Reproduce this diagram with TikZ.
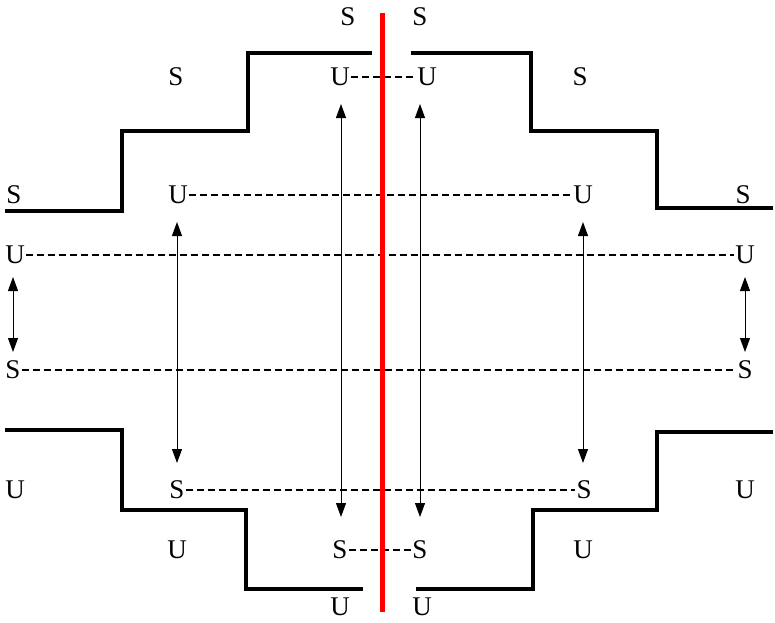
\documentclass[tikz,border=0pt]{standalone}
\usepackage{fontspec}
\setmainfont{Liberation Serif}
\usetikzlibrary{arrows.meta}
\begin{document}
\begin{tikzpicture}[x=1pt,y=-1pt,
  lbl/.style={inner sep=1pt,font=\fontsize{27}{27}\selectfont},
  wall/.style={line width=4pt,line join=miter},
  dsh/.style={line width=1.5pt,dash pattern=on 7pt off 4pt},
  dbl/.style={line width=1pt,{Triangle[length=14pt,width=10pt]}-{Triangle[length=14pt,width=10pt]}},
  redline/.style={red,line width=5pt}]
\useasboundingbox (0,0) rectangle (775,622);
% walls
\draw[wall] (5,211) -- (122,211) -- (122,131) -- (248,131) -- (248,53) -- (372,53);
\draw[wall] (411,53) -- (531,53) -- (531,131) -- (657,131) -- (657,208) -- (773,208);
\draw[wall] (5,430) -- (122,430) -- (122,510) -- (246,510) -- (246,589) -- (363,589);
\draw[wall] (416,589) -- (533,589) -- (533,510) -- (657,510) -- (657,432) -- (773,432);
% labels
\node[lbl] (s1) at (348,17) {S};
\node[lbl] (s2) at (420,17) {S};
\node[lbl] (s3) at (176,77) {S};
\node[lbl] (s4) at (580,77) {S};
\node[lbl] (u1) at (340,77) {U};
\node[lbl] (u2) at (427,77) {U};
\node[lbl] (s5) at (14,195) {S};
\node[lbl] (u3) at (178,195) {U};
\node[lbl] (u4) at (583,195) {U};
\node[lbl] (s6) at (743,195) {S};
\node[lbl] (u5) at (15,255) {U};
\node[lbl] (u6) at (745,255) {U};
\node[lbl] (s7) at (13,370) {S};
\node[lbl] (s8) at (745,370) {S};
\node[lbl] (u7) at (15,490) {U};
\node[lbl] (s9) at (177,490) {S};
\node[lbl] (s10) at (584,490) {S};
\node[lbl] (u8) at (745,490) {U};
\node[lbl] (u9) at (177,550) {U};
\node[lbl] (s11) at (340,550) {S};
\node[lbl] (s12) at (420,550) {S};
\node[lbl] (u10) at (583,550) {U};
\node[lbl] (u11) at (340,607) {U};
\node[lbl] (u12) at (422,607) {U};
% dashed lines
\draw[dsh] (u1) -- (u2);
\draw[dsh] (u3) -- (u4);
\draw[dsh] (u5) -- (u6);
\draw[dsh] (s7) -- (s8);
\draw[dsh] (s9) -- (s10);
\draw[dsh] (s11) -- (s12);
% arrow end points
\coordinate (a1t) at (13,277); \coordinate (a1b) at (13,352);
\coordinate (a2t) at (745,277); \coordinate (a2b) at (745,352);
\coordinate (a3t) at (177,222); \coordinate (a3b) at (177,463);
\coordinate (a4t) at (583,222); \coordinate (a4b) at (583,463);
\coordinate (a5t) at (341,104); \coordinate (a5b) at (341,517);
\coordinate (a6t) at (420,104); \coordinate (a6b) at (420,517);
\draw[dbl] (a1t) -- (a1b);
\draw[dbl] (a2t) -- (a2b);
\draw[dbl] (a3t) -- (a3b);
\draw[dbl] (a4t) -- (a4b);
\draw[dbl] (a5t) -- (a5b);
\draw[dbl] (a6t) -- (a6b);
% red line
\coordinate (rt) at (382,13); \coordinate (rb) at (382,612);
\draw[redline] (rt) -- (rb);
\end{tikzpicture}
\end{document}
